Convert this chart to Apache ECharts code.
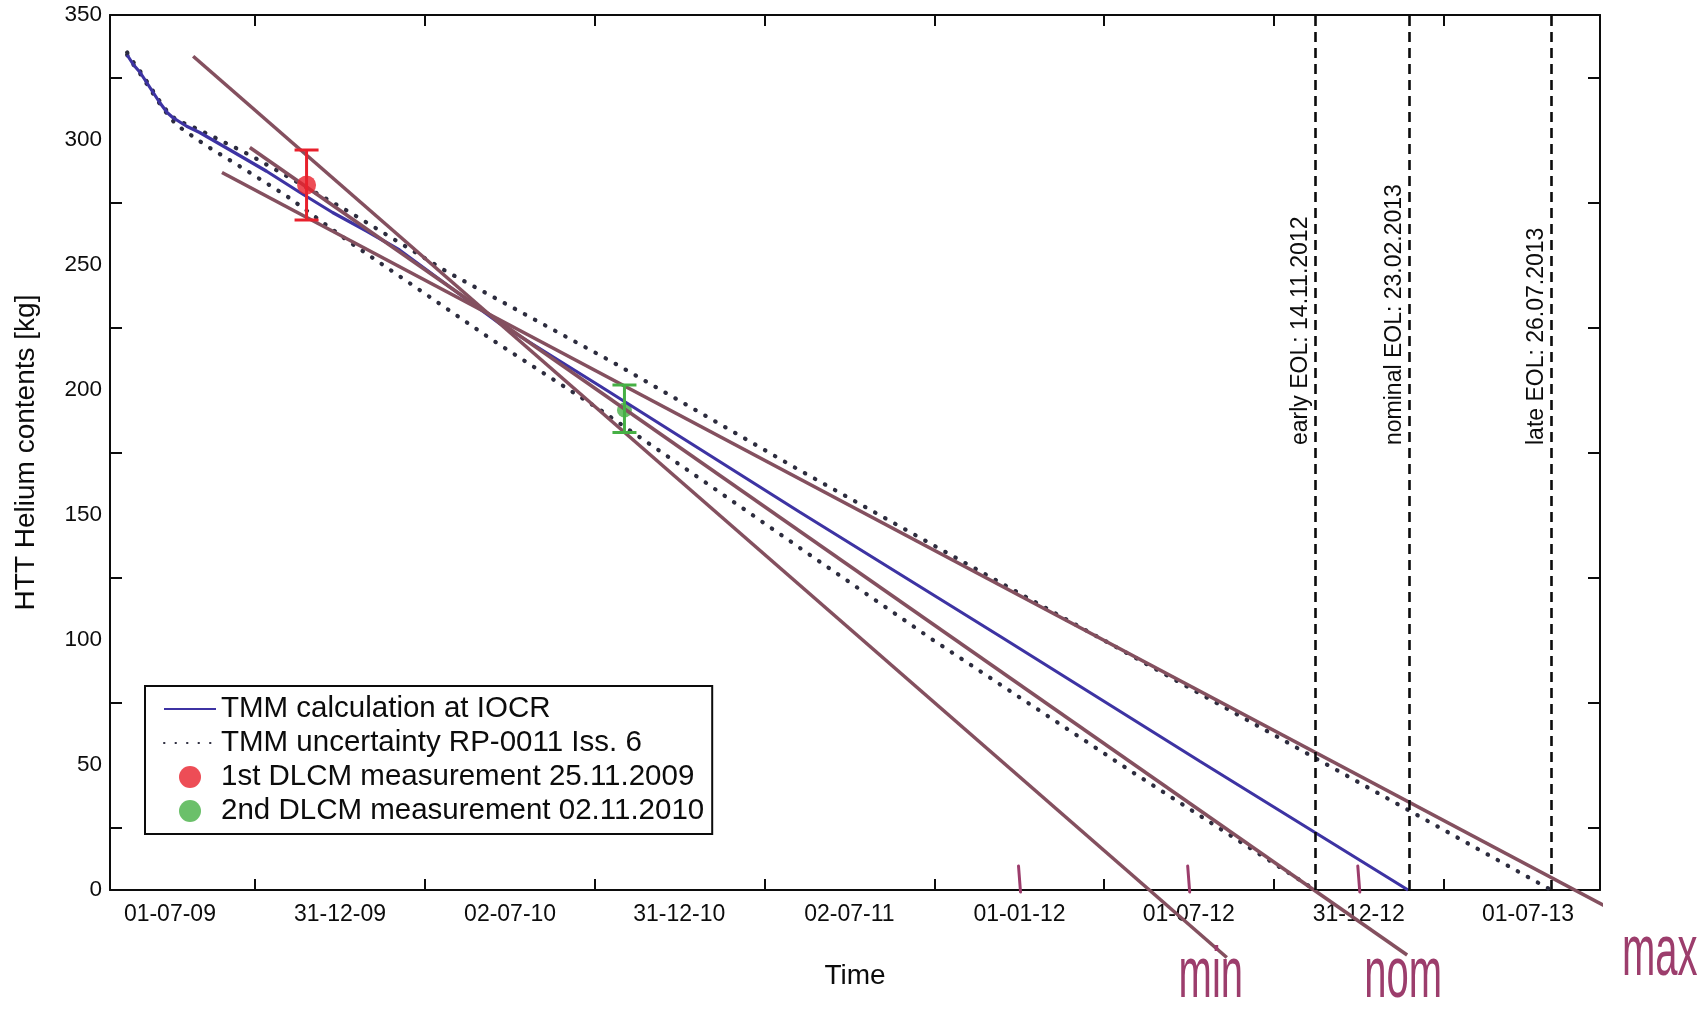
<!DOCTYPE html>
<html>
<head>
<meta charset="utf-8">
<script src="https://cdn.jsdelivr.net/npm/echarts@6/dist/echarts.min.js"></script>
<style>
  html, body { margin: 0; padding: 0; background: #ffffff; }
  #chart { width: 1707px; height: 1009px; }
</style>
</head>
<body>
<div id="chart"></div>
<script>
// ---------------- data ----------------
const xTickLabels = ['01-07-09', '31-12-09', '02-07-10', '31-12-10', '02-07-11', '01-01-12', '01-07-12', '31-12-12', '01-07-13'];
const yTickLabels = [0, 50, 100, 150, 200, 250, 300, 350];
const xRange = ['2009-04-27T13:00:00Z', '2013-09-16T12:00:00Z'];

const tmmName = 'TMM calculation at IOCR';
const tmmDates = ['2009-05-16', '2009-05-23', '2009-05-30', '2009-06-06', '2009-06-13', '2009-06-20', '2009-06-28',
  '2009-07-04', '2009-07-19', '2009-08-02', '2009-09-06', '2009-10-13', '2009-11-18', '2009-12-23', '2010-01-29',
  '2010-03-05', '2010-06-21', '2010-10-07', '2011-05-09', '2011-12-11', '2012-07-13', '2013-02-22'];
const tmmValues = [334, 330, 327, 323, 319, 315, 311,
  309, 305.5, 303, 295.5, 287.5, 279, 271, 263.5,
  256, 226.5, 201.5, 151.3, 101.5, 51.5, 0];

const uncName = 'TMM uncertainty RP-0011 Iss. 6';
const uncUpperDates = ['2009-05-16', '2009-05-23', '2009-05-30', '2009-06-06', '2009-06-13', '2009-06-20', '2009-06-28',
  '2009-07-08', '2009-08-02', '2009-09-25', '2010-01-11', '2010-04-25', '2010-10-21', '2011-05-09', '2011-12-11',
  '2012-09-02', '2013-07-26'];
const uncUpperValues = [335, 331, 327.5, 323.5, 319.5, 315.5, 311.5,
  308, 304, 294, 271, 247.3, 211, 168, 123,
  68, 0];
const uncLowerDates = ['2009-05-16', '2009-05-23', '2009-05-30', '2009-06-06', '2009-06-13', '2009-06-20', '2009-06-28',
  '2009-07-08', '2009-08-10', '2009-09-14', '2009-11-04', '2010-01-11', '2010-03-11', '2010-06-13', '2010-10-07',
  '2011-02-05', '2011-05-09', '2011-09-30', '2012-05-02', '2012-11-14'];
const uncLowerValues = [334, 330, 326.5, 322.5, 318.5, 314.5, 310.5,
  306, 297.5, 289.5, 277.5, 259, 244, 220, 192,
  161, 137, 100, 47, 0];

const measNames = ['1st DLCM measurement 25.11.2009', '2nd DLCM measurement 02.11.2010'];
const measDates = ['2009-11-25', '2010-11-02'];
const measValues = [282, 192];
const measLow = [268, 183];
const measHigh = [296, 202];

const eolDates = ['2012-11-14', '2013-02-23', '2013-07-26'];
const eolLabels = ['early EOL: 14.11.2012', 'nominal EOL: 23.02.2013', 'late EOL: 26.07.2013'];

// hand-drawn trend lines
const trendNames = ['min', 'nom', 'max'];
const trendStartDates = ['2009-07-26', '2009-09-25', '2009-08-26'];
const trendStartValues = [333.5, 297, 287];
const trendEndDates = ['2012-08-11', '2013-02-21', '2013-11-22'];
const trendEndValues = [-27, -26, -18.5];
const markedTickLabels = ['01-01-12', '01-07-12', '31-12-12'];

// ---------------- helpers ----------------
const FONT = '"Liberation Sans", Arial, Helvetica, sans-serif';
const INK = '#0c0c0c';
const toMs = s => Date.parse(s.length > 10 ? s : s + 'T00:00:00Z');
const tickToMs = s => { const p = s.split('-').map(Number); return Date.UTC(2000 + p[2], p[1] - 1, p[0]); };
const pair = (dates, vals) => dates.map((d, i) => [toMs(d), vals[i]]);

const labelMs = xTickLabels.map(tickToMs);
const labelByMs = new Map(labelMs.map((v, i) => [v, xTickLabels[i]]));
const xTickMs = labelMs.slice(1).map((v, i) => (v + labelMs[i]) / 2);
const yTickMarks = yTickLabels.slice(1).map((v, i) => (v + yTickLabels[i]) / 2);
const xMin = toMs(xRange[0]), xMax = toMs(xRange[1]);
const yMin = yTickLabels[0], yMax = yTickLabels[yTickLabels.length - 1];

const measColors = ['#e8202c', '#46b045'];
const trendColor = '#84505f';
const handColor = '#9c3d6c';
const blue = '#3d33a3';
const dotColor = '#2c2c3e';
const eolLabelBase = 178;

const axisLine = { show: true, onZero: false, lineStyle: { color: INK, width: 2 } };
const tickStyle = { color: INK, width: 2 };

function xAxisDef(pos, withLabels) {
  return {
    type: 'value', position: pos, min: xMin, max: xMax,
    axisLine: axisLine, splitLine: { show: false },
    axisTick: { show: true, inside: true, length: 11, customValues: xTickMs, lineStyle: tickStyle },
    axisLabel: withLabels ? {
      show: true, customValues: labelMs, margin: 13, fontSize: 23, color: INK, fontFamily: FONT,
      formatter: v => {
        if (labelByMs.has(v)) return labelByMs.get(v);
        let best = '', bd = Infinity;
        labelMs.forEach((m, i) => { const d = Math.abs(m - v); if (d < bd) { bd = d; best = xTickLabels[i]; } });
        return best;
      }
    } : { show: false },
    name: withLabels ? 'Time' : '',
    nameLocation: 'middle', nameGap: 72,
    nameTextStyle: { fontSize: 28, color: INK, fontFamily: FONT }
  };
}
function yAxisDef(pos, withLabels) {
  return {
    type: 'value', position: pos, min: yMin, max: yMax,
    axisLine: axisLine, splitLine: { show: false },
    axisTick: { show: true, inside: true, length: 12, customValues: yTickMarks, lineStyle: tickStyle },
    axisLabel: withLabels ? { show: true, customValues: yTickLabels, margin: 8, fontSize: 22.5, color: INK, fontFamily: FONT } : { show: false },
    name: withLabels ? 'HTT Helium contents [kg]' : '',
    nameLocation: 'middle', nameGap: 70,
    nameTextStyle: { fontSize: 28, color: INK, fontFamily: FONT }
  };
}

// EOL dashed lines
const eolLines = eolDates.map(d => [
  { coord: [toMs(d), yMin] },
  { coord: [toMs(d), yMax] }
]);

const dottedStyle = { type: [0.5, 11], width: 4.2, color: dotColor, cap: 'round' };

const series = [
  // 2nd measurement (drawn beneath the lines)
  { name: measNames[1], type: 'scatter', symbol: 'circle', symbolSize: 15, z: 1,
    itemStyle: { color: measColors[1] }, data: [[toMs(measDates[1]), measValues[1]]] },
  { name: uncName, type: 'line', symbol: 'none', clip: false, z: 2, lineStyle: dottedStyle,
    itemStyle: { color: dotColor }, data: pair(uncUpperDates, uncUpperValues) },
  { name: uncName, type: 'line', symbol: 'none', clip: false, z: 2, lineStyle: dottedStyle,
    itemStyle: { color: dotColor }, data: pair(uncLowerDates, uncLowerValues) },
  { name: tmmName, type: 'line', symbol: 'none', clip: false, z: 3,
    lineStyle: { color: blue, width: 3.2 }, itemStyle: { color: blue },
    data: pair(tmmDates, tmmValues),
    markLine: { silent: true, symbol: ['none', 'none'], animation: false,
      lineStyle: { type: [10, 6], width: 2.6, color: INK }, label: { show: false }, data: eolLines }
  }
];

trendNames.forEach((n, i) => {
  series.push({
    name: n, type: 'line', symbol: 'none', clip: false, z: 4,
    lineStyle: { color: trendColor, width: 3.6 },
    data: [[toMs(trendStartDates[i]), trendStartValues[i]], [toMs(trendEndDates[i]), trendEndValues[i]]]
  });
});

series.push({ name: measNames[0], type: 'scatter', symbol: 'circle', symbolSize: 19, z: 6,
  itemStyle: { color: measColors[0] }, data: [[toMs(measDates[0]), measValues[0]]] });

// error bars
series.push({
  name: 'errorbars', type: 'custom', z: 5,
  data: measDates.map((d, i) => [toMs(d), measValues[i], measLow[i], measHigh[i]]),
  encode: { x: 0, y: 1 },
  renderItem: (params, api) => {
    const x = api.value(0);
    const lo = api.coord([x, api.value(2)]);
    const hi = api.coord([x, api.value(3)]);
    const st = { stroke: measColors[params.dataIndex], lineWidth: 3 };
    const cap = 12;
    return { type: 'group', children: [
      { type: 'line', shape: { x1: lo[0], y1: lo[1], x2: hi[0], y2: hi[1] }, style: st },
      { type: 'line', shape: { x1: lo[0] - cap, y1: lo[1], x2: lo[0] + cap, y2: lo[1] }, style: st },
      { type: 'line', shape: { x1: hi[0] - cap, y1: hi[1], x2: hi[0] + cap, y2: hi[1] }, style: st }
    ] };
  }
});

// EOL labels, rotated, left of each dashed line
series.push({
  name: 'eolLabels', type: 'custom', z: 6, clip: false,
  data: eolDates.map(d => [toMs(d), eolLabelBase]),
  encode: { x: 0, y: 1 },
  renderItem: (params, api) => {
    const p = api.coord([api.value(0), api.value(1)]);
    return { type: 'text', x: p[0] - 3, y: p[1], rotation: Math.PI / 2,
      style: { text: eolLabels[params.dataIndex], fontSize: 23, fontFamily: FONT, fill: INK,
               align: 'left', verticalAlign: 'bottom' } };
  }
});

// handwritten annotations at the ends of the trend lines
const annotOffsets = [[-16, 20], [-4, 22], [-2, 19]];
series.push({
  name: 'annotations', type: 'custom', z: 7, clip: false,
  data: trendEndDates.map((d, i) => [toMs(d), trendEndValues[i]]),
  encode: { x: 0, y: 1 },
  renderItem: (params, api) => {
    const p = api.coord([api.value(0), api.value(1)]);
    const o = annotOffsets[params.dataIndex];
    return { type: 'text', x: p[0] + o[0], y: p[1] + o[1], scaleY: 1.8,
      style: { text: trendNames[params.dataIndex], fontSize: 40, fontFamily: FONT,
               fill: handColor, align: 'center', verticalAlign: 'middle' } };
  }
});

// handwritten tick marks on the time axis
series.push({
  name: 'handmarks', type: 'custom', z: 7, clip: false,
  data: markedTickLabels.map(s => [tickToMs(s), yMin]),
  encode: { x: 0, y: 1 },
  renderItem: (params, api) => {
    const p = api.coord([api.value(0), api.value(1)]);
    return { type: 'line', shape: { x1: p[0] - 1, y1: p[1] - 24, x2: p[0] + 1, y2: p[1] + 2 },
      style: { stroke: handColor, lineWidth: 3, lineCap: 'round' } };
  }
});

const chart = echarts.init(document.getElementById('chart'), null, { renderer: 'canvas' });
chart.setOption({
  backgroundColor: '#ffffff',
  animation: false,
  grid: { left: 110, right: 107, top: 15, bottom: 119, containLabel: false },
  xAxis: [xAxisDef('bottom', true), xAxisDef('top', false)],
  yAxis: [yAxisDef('left', true), yAxisDef('right', false)],
  legend: {
    orient: 'vertical', left: 145, top: 686,
    itemWidth: 52, itemHeight: 22, itemGap: 4,
    padding: [8, 8, 8, 18],
    borderColor: INK, borderWidth: 2, backgroundColor: '#ffffff',
    selectedMode: false,
    textStyle: { fontSize: 29.5, lineHeight: 30, color: INK, fontFamily: FONT },
    data: [
      { name: tmmName, itemStyle: { opacity: 0 } },
      { name: uncName, itemStyle: { opacity: 0 } },
      { name: measNames[0], icon: 'circle' },
      { name: measNames[1], icon: 'circle' }
    ]
  },
  series: series
});
</script>
</body>
</html>
